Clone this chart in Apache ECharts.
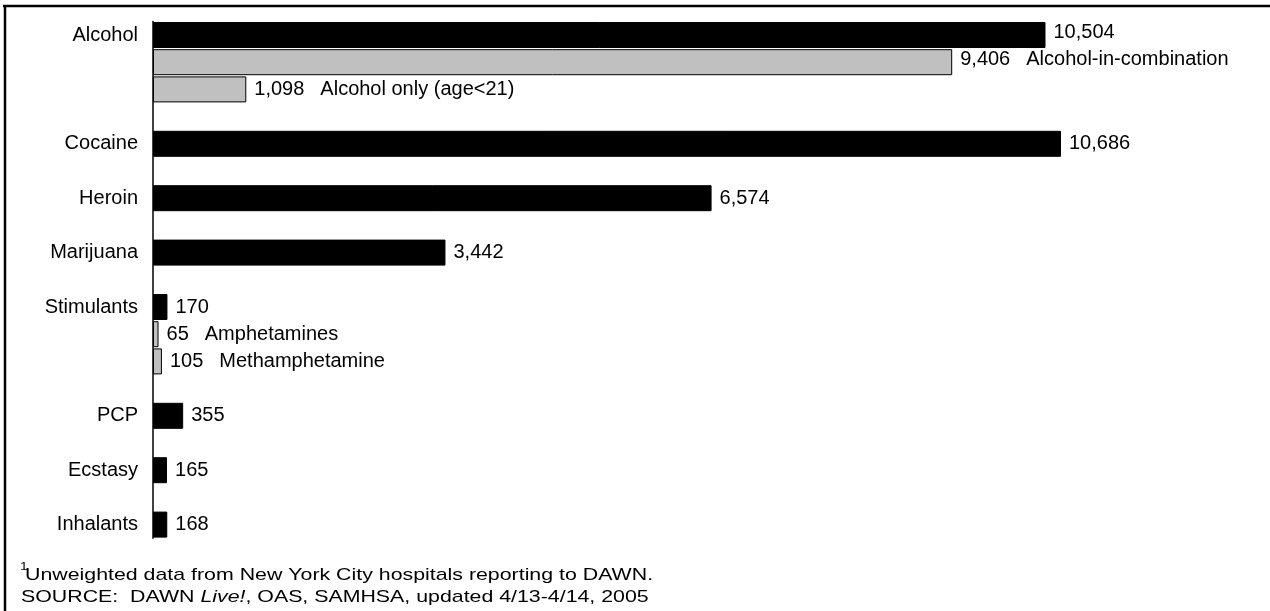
<!DOCTYPE html>
<html>
<head>
<meta charset="utf-8">
<script src="https://cdn.jsdelivr.net/npm/echarts@6/dist/echarts.min.js"></script>
<style>
  html, body { margin: 0; padding: 0; background: #fff; }
  #chart { width: 1270px; height: 611px; }
</style>
</head>
<body>
<div id="chart"></div>
<script>
// --- data ---
const categories = ['Alcohol', '', '', '', 'Cocaine', '', 'Heroin', '', 'Marijuana', '',
  'Stimulants', '', '', '', 'PCP', '', 'Ecstasy', '', 'Inhalants'];
const values = [10504, 9406, 1098, null, 10686, null, 6574, null, 3442, null,
  170, 65, 105, null, 355, null, 165, null, 168];
const subLabels = ['', 'Alcohol-in-combination', 'Alcohol only (age<21)', '', '', '', '', '', '', '',
  '', 'Amphetamines', 'Methamphetamine', '', '', '', '', '', ''];
const footnote = 'Unweighted data from New York City hospitals reporting to DAWN.';
const sourceParts = ['SOURCE:  DAWN ', 'Live!', ', OAS, SAMHSA, updated 4/13-4/14, 2005'];

// --- style ---
const FONT = '"Liberation Sans", Arial, sans-serif';
const FS = 20;
const COLORS = { main: '#000000', sub: '#c0c0c0', border: '#000000', text: '#000000' };
// footnote text in the source looks a bit stretched sideways
const NOTE_FS = 17;
const NOTE_SX = 1.255;

const fmt = (v) => v.toLocaleString('en-US');

const barData = values.map((v, i) => {
  if (v == null) return null;
  const isSub = subLabels[i] !== '';
  const item = {
    value: v,
    itemStyle: {
      color: isSub ? COLORS.sub : COLORS.main,
      borderColor: COLORS.border,
      borderWidth: 1
    }
  };
  // the two top labels sit a little high in the original
  if (i < 2) item.label = { offset: [0, -3] };
  return item;
});

const chart = echarts.init(document.getElementById('chart'), null, { renderer: 'canvas' });

const option = {
  backgroundColor: '#ffffff',
  animation: false,
  grid: { left: 153, top: 21.4, width: 1019.6, height: 516.8, containLabel: false },
  xAxis: {
    type: 'value',
    min: 0,
    max: 12000,
    show: false
  },
  yAxis: {
    type: 'category',
    inverse: true,
    data: categories.map((c, i) => 'r' + i),
    axisLine: { show: true, lineStyle: { color: '#000', width: 1.5 } },
    axisTick: { show: false },
    splitLine: { show: false },
    axisLabel: {
      margin: 15,
      color: COLORS.text,
      fontFamily: FONT,
      fontSize: FS,
      interval: 0,
      formatter: (v, i) => categories[i]
    }
  },
  series: [{
    type: 'bar',
    data: barData,
    barWidth: 26,
    label: {
      show: true,
      position: 'right',
      distance: 8,
      color: COLORS.text,
      fontFamily: FONT,
      fontSize: FS,
      formatter: (p) => {
        const s = subLabels[p.dataIndex];
        return s ? '{v|' + fmt(p.value) + '}{s|' + s + '}' : '{v|' + fmt(p.value) + '}';
      },
      rich: {
        v: { fontFamily: FONT, fontSize: FS, color: COLORS.text },
        s: { fontFamily: FONT, fontSize: FS, color: COLORS.text, padding: [0, 0, 0, 16] }
      }
    }
  }],
  graphic: [
    // frame (top + left edges)
    { type: 'line', shape: { x1: 3, y1: 6, x2: 1270, y2: 6 }, style: { stroke: '#000', lineWidth: 2.5 } },
    { type: 'line', shape: { x1: 5, y1: 5, x2: 5, y2: 611 }, style: { stroke: '#000', lineWidth: 2.5 } },
    // footnotes
    { type: 'text', x: 20, y: 566.5, scaleX: NOTE_SX,
      style: { text: '1', font: '11px ' + FONT, fill: '#000', verticalAlign: 'middle' } },
    { type: 'text', x: 25, y: 575, scaleX: NOTE_SX,
      style: { text: footnote, font: NOTE_FS + 'px ' + FONT, fill: '#000', verticalAlign: 'middle' } },
    {
      type: 'text', x: 21, y: 597.5, scaleX: NOTE_SX,
      style: {
        text: '{n|' + sourceParts[0] + '}{i|' + sourceParts[1] + '}{n|' + sourceParts[2] + '}',
        verticalAlign: 'middle',
        rich: {
          n: { fontFamily: FONT, fontSize: NOTE_FS, fill: '#000' },
          i: { fontFamily: FONT, fontSize: NOTE_FS, fontStyle: 'italic', fill: '#000' }
        }
      }
    }
  ]
};

chart.setOption(option);
</script>
</body>
</html>
